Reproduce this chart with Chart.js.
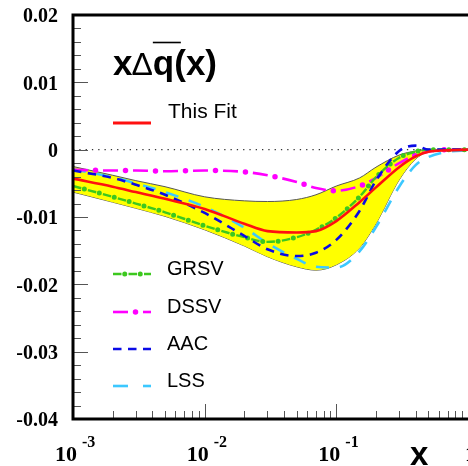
<!DOCTYPE html>
<html>
<head>
<meta charset="utf-8">
<script src="https://cdn.jsdelivr.net/npm/chart.js@4.4.1/dist/chart.umd.min.js"></script>
<style>
  html, body { margin: 0; padding: 0; background: #ffffff; }
  #wrap { width: 468px; height: 466px; }
</style>
</head>
<body>
<div id="wrap"><canvas id="c" width="468" height="466"></canvas></div>
<script>
// x grid (Bjorken x) shared by all curves
const xValues   = [0.001, 0.002, 0.003, 0.005, 0.01, 0.02, 0.03, 0.05, 0.07, 0.1, 0.15, 0.2, 0.3, 0.4, 0.5, 0.7, 1.0];

// x * Delta qbar(x) for each parametrisation
const thisFit   = [-0.0043, -0.0055, -0.0063, -0.0073, -0.0088, -0.0110, -0.0121, -0.0123, -0.0121, -0.0106, -0.0078, -0.0056, -0.0026, -0.0010, -0.0003, -0.0001, 0];
const grsv      = [-0.0054, -0.0070, -0.0080, -0.0093, -0.0113, -0.0130, -0.0137, -0.0130, -0.0119, -0.0101, -0.0070, -0.0041, -0.0012, -0.0003, 0, 0, 0];
const dssv      = [-0.0030, -0.0031, -0.0031, -0.0032, -0.0031, -0.0033, -0.0038, -0.0048, -0.0057, -0.0061, -0.0054, -0.0042, -0.0020, -0.0008, -0.0003, 0, 0];
const aac       = [-0.0031, -0.0042, -0.0052, -0.0067, -0.0094, -0.0128, -0.0148, -0.0158, -0.0153, -0.0134, -0.0091, -0.0046, -0.0002, 0.0006, 0, 0, 0];
const lss       = [-0.0029, -0.0041, -0.0050, -0.0063, -0.0085, -0.0116, -0.0139, -0.0162, -0.0174, -0.0175, -0.0151, -0.0115, -0.0055, -0.0023, -0.0011, -0.0003, -0.0001];

// uncertainty band of this fit
const bandUpper = [-0.0025, -0.0038, -0.0046, -0.0055, -0.0070, -0.0076, -0.0077, -0.0074, -0.0067, -0.0054, -0.0042, -0.0026, -0.0008, -0.0002, 0, 0, 0];
const bandLower = [-0.0063, -0.0078, -0.0087, -0.0099, -0.0119, -0.0143, -0.0159, -0.0174, -0.0179, -0.0171, -0.0146, -0.0110, -0.0045, -0.0014, -0.0003, 0, 0];

// reference line at zero
const zeroX = [0.001, 1.0];
const zeroY = [0, 0];

// axis ticks and labels
const yTickValues  = [0.02, 0.01, 0, -0.01, -0.02, -0.03, -0.04];
const yTickLabels  = ['0.02', '0.01', '0', '-0.01', '-0.02', '-0.03', '-0.04'];
const yMinorStep   = 0.002;
const xDecades     = [0.001, 0.01, 0.1, 1];
const xDecadeExp   = ['-3', '-2', '-1', ''];
const xDecadeBase  = ['10', '10', '10', '1'];

// legend entries
const legendNames  = ['GRSV', 'DSSV', 'AAC', 'LSS'];

const pts = (xs, ys) => xs.map((x, i) => ({ x: x, y: ys[i] }));

const RED = '#ff1010', GREEN = '#3cc81e', MAGENTA = '#ff00ff', BLUE = '#0a0ae6', CYAN = '#3cc8ff';

const common = { pointRadius: 0, pointHoverRadius: 0, fill: false, cubicInterpolationMode: 'monotone' };

const datasets = [
  Object.assign({ label: 'This Fit', data: pts(xValues, thisFit), borderColor: RED, borderWidth: 2.6, order: 0 }, common),
  Object.assign({ label: 'GRSV', data: pts(xValues, grsv), borderColor: GREEN, borderWidth: 2.4, borderDash: [8.5, 7], order: 2 }, common),
  Object.assign({ label: 'GRSV dots', data: pts(xValues, grsv), borderColor: GREEN, borderWidth: 5, borderDash: [0, 15.5], borderDashOffset: 3.75, borderCapStyle: 'round', order: 2 }, common),
  Object.assign({ label: 'DSSV', data: pts(xValues, dssv), borderColor: MAGENTA, borderWidth: 2.6, borderDash: [15, 15], order: 3 }, common),
  Object.assign({ label: 'DSSV dots', data: pts(xValues, dssv), borderColor: MAGENTA, borderWidth: 5.5, borderDash: [0, 30], borderDashOffset: 7.5, borderCapStyle: 'round', order: 3 }, common),
  Object.assign({ label: 'AAC', data: pts(xValues, aac), borderColor: BLUE, borderWidth: 2.6, borderDash: [8.5, 6.5], order: 1 }, common),
  Object.assign({ label: 'LSS', data: pts(xValues, lss), borderColor: CYAN, borderWidth: 2.6, borderDash: [13, 11], order: 4 }, common),
  Object.assign({ label: 'zero', data: pts(zeroX, zeroY), borderColor: '#333333', borderWidth: 1.2, borderDash: [1.3, 5], order: 8 }, common),
  Object.assign({}, common, { label: 'band upper', data: pts(xValues, bandUpper), borderColor: '#555555', borderWidth: 1, backgroundColor: '#ffff00', fill: '+1', order: 10 }),
  Object.assign({ label: 'band lower', data: pts(xValues, bandLower), borderColor: '#555555', borderWidth: 1, order: 11 }, common)
];

// frame, inward ticks, tick labels, title and legend
const decor = {
  id: 'decor',
  afterDatasetsDraw(chart) {
    const ctx = chart.ctx, a = chart.chartArea, xs = chart.scales.x, ys = chart.scales.y;
    ctx.save();

    const seg = (x1, y1, x2, y2) => { ctx.beginPath(); ctx.moveTo(x1, y1); ctx.lineTo(x2, y2); ctx.stroke(); };

    // y ticks (inside, on the left axis)
    ctx.strokeStyle = '#555555';
    ctx.lineWidth = 1;
    const nMinor = Math.round((yTickValues[0] - yTickValues[yTickValues.length - 1]) / yMinorStep);
    for (let i = 0; i <= nMinor; i++) {
      const v = yTickValues[0] - i * yMinorStep;
      const py = Math.round(ys.getPixelForValue(v)) + 0.5;
      const major = i % 5 === 0;
      seg(a.left, py, a.left + (major ? 15 : 8), py);
    }
    // x ticks (inside, on the bottom axis)
    for (let d = 0; d < xDecades.length - 1; d++) {
      for (let m = 1; m <= 9; m++) {
        const px = Math.round(xs.getPixelForValue(xDecades[d] * m)) + 0.5;
        seg(px, a.bottom, px, a.bottom - (m === 1 ? 15 : 8));
      }
    }

    // frame
    ctx.strokeStyle = '#000000';
    ctx.lineWidth = 3;
    ctx.beginPath();
    ctx.moveTo(a.right + 2, a.top);
    ctx.lineTo(a.left, a.top);
    ctx.lineTo(a.left, a.bottom);
    ctx.lineTo(a.right + 2, a.bottom);
    ctx.stroke();

    ctx.fillStyle = '#000000';

    // y tick labels
    ctx.font = 'bold 20px "Liberation Serif", "DejaVu Serif", serif';
    ctx.textAlign = 'right';
    ctx.textBaseline = 'middle';
    yTickValues.forEach((v, i) => {
      ctx.fillText(yTickLabels[i], 58, ys.getPixelForValue(v) + 2);
    });

    // x tick labels: 10 with raised exponent
    ctx.textAlign = 'left';
    ctx.textBaseline = 'alphabetic';
    xDecades.forEach((v, i) => {
      const px = xs.getPixelForValue(v);
      ctx.font = 'bold 22px "Liberation Serif", "DejaVu Serif", serif';
      const left = xDecadeExp[i] ? px - 18 : px - 3;
      ctx.fillText(xDecadeBase[i], left, 461);
      if (xDecadeExp[i]) {
        const w = ctx.measureText(xDecadeBase[i]).width;
        ctx.font = 'bold 16px "Liberation Serif", "DejaVu Serif", serif';
        ctx.fillText(xDecadeExp[i], left + w + 5, 447);
      }
    });

    // x axis title
    ctx.font = 'bold 33px "Liberation Sans", Arial, sans-serif';
    ctx.fillText('x', 410, 465);

    // plot title  x Delta qbar(x)
    ctx.font = 'bold 35px "Liberation Sans", Arial, sans-serif';
    let tx = 113;
    ctx.fillText('x', tx, 75);
    tx += ctx.measureText('x').width;
    ctx.font = '32px "Liberation Sans", Arial, sans-serif';
    ctx.fillText('\u0394', tx - 1, 75);
    tx += ctx.measureText('\u0394').width - 1;
    ctx.font = 'bold 35px "Liberation Sans", Arial, sans-serif';
    ctx.fillText('q(x)', tx, 75);
    ctx.lineWidth = 1.6;
    seg(tx, 42.5, tx + 28, 42.5);

    // legend
    const sample = (y, color, width, dash, dotDash, dotWidth, dotOffset) => {
      ctx.strokeStyle = color;
      ctx.lineWidth = width;
      ctx.lineCap = 'butt';
      ctx.setLineDash(dash || []);
      ctx.lineDashOffset = 0;
      seg(113, y, 151, y);
      if (dotDash) {
        ctx.lineWidth = dotWidth;
        ctx.lineCap = 'round';
        ctx.setLineDash(dotDash);
        ctx.lineDashOffset = dotOffset;
        seg(113, y, 151, y);
      }
      ctx.setLineDash([]);
      ctx.lineCap = 'butt';
    };

    sample(123, RED, 3);
    ctx.font = '21px "Liberation Sans", Arial, sans-serif';
    ctx.fillText('This Fit', 168, 118);

    const styles = [
      [GREEN, 2.4, [8.5, 7], [0, 15.5], 5, 3.75],
      [MAGENTA, 2.6, [15, 15], [0, 30], 5.5, 7.5],
      [BLUE, 2.6, [8.5, 6.5]],
      [CYAN, 2.6, [15, 15]]
    ];
    const baselines = [275, 313, 350, 387];
    ctx.font = '20px "Liberation Sans", Arial, sans-serif';
    legendNames.forEach((name, i) => {
      const s = styles[i];
      sample(baselines[i] - 1, s[0], s[1], s[2], s[3], s[4], s[5]);
      ctx.fillStyle = '#000000';
      ctx.fillText(name, 167, baselines[i]);
    });

    ctx.restore();
  }
};

new Chart(document.getElementById('c'), {
  type: 'line',
  data: { datasets: datasets },
  options: {
    responsive: false,
    animation: false,
    devicePixelRatio: 1,
    layout: { padding: { left: 73, top: 15, right: 0, bottom: 47 } },
    scales: {
      x: { type: 'logarithmic', min: 0.001, max: 1, display: false },
      y: { type: 'linear', min: -0.04, max: 0.02, display: false }
    },
    plugins: {
      legend: { display: false },
      tooltip: { enabled: false },
      filler: { propagate: false }
    }
  },
  plugins: [decor]
});
</script>
</body>
</html>
